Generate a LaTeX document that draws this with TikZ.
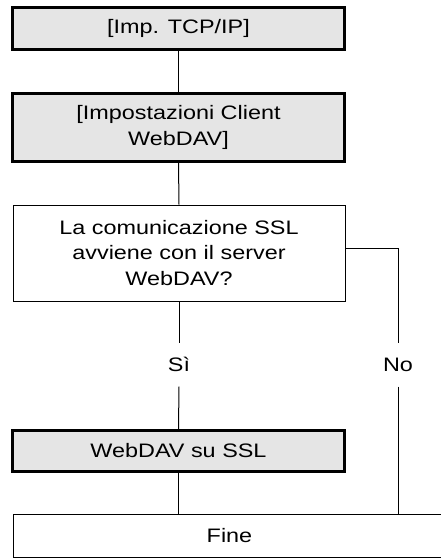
\documentclass[tikz,border=0pt]{standalone}
\usepackage{fontspec}
\setmainfont{Liberation Sans}[FakeStretch=1.2]
\usetikzlibrary{positioning}

\tikzset{
  box/.style={minimum width=332pt, inner sep=0pt, align=center,
    font=\fontsize{19.5}{25.5}\selectfont},
  greybox/.style={box, draw, fill=black!10, line width=3pt},
  whitebox/.style={box, draw, line width=1pt},
  answer/.style={inner sep=0pt, minimum height=43pt,
    font=\fontsize{19.5}{25.5}\selectfont},
}

\begin{document}
\begin{tikzpicture}[x=1pt, y=-1pt, line width=1pt]
\useasboundingbox (0,0) rectangle (440,558);

\node[greybox, minimum height=42pt] at (178.5, 28.5) (imp) {[Imp. TCP/IP]};
\node[greybox, minimum height=68pt] at (178.5, 127.5) (client)
    {[Impostazioni Client\\WebDAV]};
\node[whitebox, minimum height=96pt] at (179, 253) (ssl)
    {La comunicazione SSL\\avviene con il server\\WebDAV?};
\node[answer] at (179, 364.5) (si) {Sì};
\node[answer] at (398, 364.5) (no) {No};
\node[greybox, minimum height=41pt] at (178.5, 451) (webssl) {WebDAV su SSL};
\node[whitebox, minimum width=433pt, minimum height=43pt] at (229.5, 535.5)
    (fine) {Fine};
\coordinate (bend) at (398, 248);

\draw (imp.south) -- (client.north);
\draw (client.south) -- (ssl.north);
\draw (ssl.south) -- (si.north);
\draw (si.south) -- (webssl.north);
\draw (webssl.south) -- (webssl.south |- fine.north);
\draw (bend -| ssl.east) -- (bend) -- (no.north);
\draw (no.south) -- (no.south |- fine.north);
\end{tikzpicture}
\end{document}
